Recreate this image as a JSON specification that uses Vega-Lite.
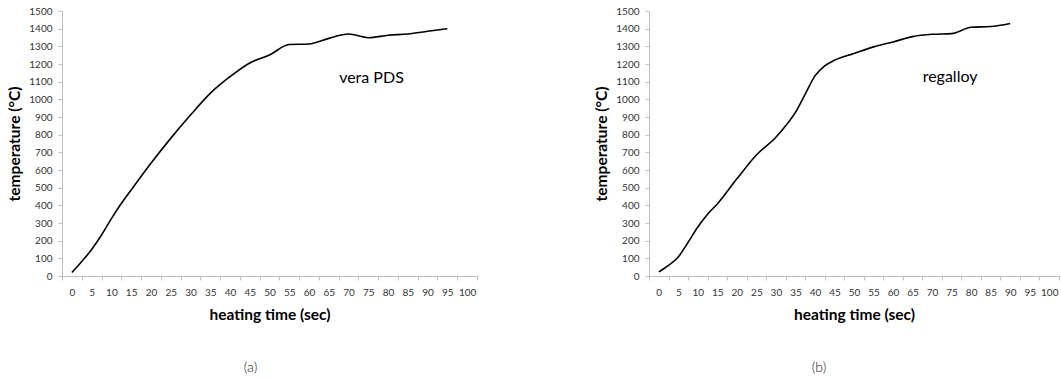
{
  "$schema": "https://vega.github.io/schema/vega-lite/v6.json",
  "background": "white",
  "padding": {"left": 7, "top": 6, "right": 0, "bottom": 0},
  "spacing": 116,
  "config": {
    "font": "Lato",
    "view": {"stroke": null},
    "axis": {
      "grid": false,
      "domainColor": "#bfbfbf",
      "tickColor": "#bfbfbf",
      "tickSize": 4,
      "labelColor": "#333333",
      "labelFont": "Lato",
      "labelFontSize": 10,
      "titleFont": "Lato",
      "titleFontSize": 15.5,
      "titleFontWeight": "bold",
      "titleColor": "#000000"
    }
  },
  "datasets": {
    "a": [
      {"t": 0, "temp": 20}, {"t": 2.5, "temp": 82}, {"t": 5, "temp": 150}, {"t": 7.5, "temp": 232},
      {"t": 10, "temp": 325}, {"t": 12.5, "temp": 410}, {"t": 15, "temp": 487}, {"t": 20, "temp": 638},
      {"t": 25, "temp": 779}, {"t": 30, "temp": 911}, {"t": 35, "temp": 1034}, {"t": 40, "temp": 1128},
      {"t": 45, "temp": 1206}, {"t": 50, "temp": 1251}, {"t": 55, "temp": 1310}, {"t": 60, "temp": 1313},
      {"t": 65, "temp": 1345}, {"t": 70, "temp": 1370}, {"t": 75, "temp": 1349}, {"t": 80, "temp": 1363},
      {"t": 85, "temp": 1370}, {"t": 90, "temp": 1385}, {"t": 95, "temp": 1400}
    ],
    "b": [
      {"t": 0, "temp": 23}, {"t": 2.5, "temp": 60}, {"t": 5, "temp": 108}, {"t": 7.5, "temp": 190},
      {"t": 10, "temp": 277}, {"t": 12.5, "temp": 350}, {"t": 15, "temp": 408}, {"t": 20, "temp": 550},
      {"t": 25, "temp": 685}, {"t": 30, "temp": 785}, {"t": 32.5, "temp": 850}, {"t": 35, "temp": 926},
      {"t": 37.5, "temp": 1030}, {"t": 40, "temp": 1133}, {"t": 42.5, "temp": 1190}, {"t": 45, "temp": 1221},
      {"t": 50, "temp": 1259}, {"t": 55, "temp": 1297}, {"t": 60, "temp": 1325}, {"t": 65, "temp": 1355},
      {"t": 70, "temp": 1368}, {"t": 75, "temp": 1372}, {"t": 80, "temp": 1408}, {"t": 85, "temp": 1412},
      {"t": 90, "temp": 1429}
    ],
    "labelA": [{"t": 75.8, "temp": 1121, "label": "vera PDS"}],
    "labelB": [{"t": 74.6, "temp": 1125, "label": "regalloy"}]
  },
  "hconcat": [
    {
      "width": 415,
      "height": 265,
      "title": {"text": "(a)", "orient": "bottom", "fontSize": 14, "fontWeight": 300, "font": "Lato", "offset": 38, "dx": -19, "color": "#222222"},
      "encoding": {
        "x": {"field": "t", "type": "quantitative",
          "scale": {"domain": [-2.5, 102.5], "nice": false, "zero": false},
          "axis": {"title": "heating time (sec)", "values": [-2.5,0,2.5,5,7.5,10,12.5,15,17.5,20,22.5,25,27.5,30,32.5,35,37.5,40,42.5,45,47.5,50,52.5,55,57.5,60,62.5,65,67.5,70,72.5,75,77.5,80,82.5,85,87.5,90,92.5,95,97.5,100,102.5],
            "labelExpr": "datum.value % 5 == 0 ? format(datum.value, 'd') : ''",
            "tickOpacity": {"condition": {"test": "datum.value % 5 == 0", "value": 0}, "value": 1},
            "labelOverlap": false, "labelFlush": false, "labelPadding": 7, "titlePadding": 10}},
        "y": {"field": "temp", "type": "quantitative",
          "scale": {"domain": [0, 1500], "nice": false},
          "axis": {"title": "temperature (°C)", "values": [0,100,200,300,400,500,600,700,800,900,1000,1100,1200,1300,1400,1500],
            "format": "d", "labelOverlap": false, "labelPadding": 6, "titlePadding": 6}}
      },
      "layer": [
        {
          "data": {"name": "a"},
          "mark": {"type": "line", "interpolate": "monotone", "color": "#000000", "strokeWidth": 1.6}
        },
        {
          "data": {"name": "labelA"},
          "mark": {"type": "text", "fontSize": 16, "font": "Lato", "color": "#000000"},
          "encoding": {"text": {"field": "label"}}
        }
      ]
    },
    {
      "width": 410,
      "height": 265,
      "title": {"text": "(b)", "orient": "bottom", "fontSize": 14, "fontWeight": 300, "font": "Lato", "offset": 38, "dx": -35, "color": "#222222"},
      "encoding": {
        "x": {"field": "t", "type": "quantitative",
          "scale": {"domain": [-2.5, 102.5], "nice": false, "zero": false},
          "axis": {"title": "heating time (sec)", "values": [-2.5,0,2.5,5,7.5,10,12.5,15,17.5,20,22.5,25,27.5,30,32.5,35,37.5,40,42.5,45,47.5,50,52.5,55,57.5,60,62.5,65,67.5,70,72.5,75,77.5,80,82.5,85,87.5,90,92.5,95,97.5,100,102.5],
            "labelExpr": "datum.value % 5 == 0 ? format(datum.value, 'd') : ''",
            "tickOpacity": {"condition": {"test": "datum.value % 5 == 0", "value": 0}, "value": 1},
            "labelOverlap": false, "labelFlush": false, "labelPadding": 7, "titlePadding": 10}},
        "y": {"field": "temp", "type": "quantitative",
          "scale": {"domain": [0, 1500], "nice": false},
          "axis": {"title": "temperature (°C)", "values": [0,100,200,300,400,500,600,700,800,900,1000,1100,1200,1300,1400,1500],
            "format": "d", "labelOverlap": false, "labelPadding": 6, "titlePadding": 6}}
      },
      "layer": [
        {
          "data": {"name": "b"},
          "mark": {"type": "line", "interpolate": "monotone", "color": "#000000", "strokeWidth": 1.6}
        },
        {
          "data": {"name": "labelB"},
          "mark": {"type": "text", "fontSize": 16, "font": "Lato", "color": "#000000"},
          "encoding": {"text": {"field": "label"}}
        }
      ]
    }
  ]
}
